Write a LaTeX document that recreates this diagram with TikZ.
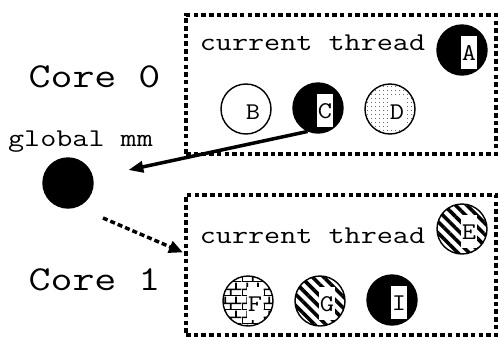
\documentclass[tikz,border=0pt]{standalone}
\usetikzlibrary{arrows.meta,patterns,patterns.meta}
\tikzdeclarepattern{
  name=BigBricks,
  type=uncolored,
  bounding box={(0pt,0pt) and (22pt,14pt)},
  tile size={(22pt,14pt)},
  code={
    \draw[line width=1.8pt] (0pt,0pt) -- (22pt,0pt) (0pt,7pt) -- (22pt,7pt)
      (0pt,0pt) -- (0pt,7pt) (11pt,0pt) -- (11pt,7pt)
      (5.5pt,7pt) -- (5.5pt,14pt) (16.5pt,7pt) -- (16.5pt,14pt);
  }
}
\tikzset{
  ball/.style={circle, draw, line width=1.4pt, minimum size=50pt, inner sep=0pt},
  lbl/.style={fill=white, inner sep=0pt, text width=16pt, align=center,
    text height=25pt, text depth=8pt, xshift=7pt, yshift=-2pt,
    font=\fontsize{24}{26}\selectfont\ttfamily},
  corebox/.style={draw, line width=3.4pt, dash pattern=on 4.5pt off 3.2pt, inner sep=0pt},
  bigtxt/.style={anchor=base, inner sep=0pt, font=\fontsize{35}{40}\selectfont\ttfamily},
  midtxt/.style={anchor=base, inner sep=0pt, font=\fontsize{25.6}{30}\selectfont\ttfamily},
  stripes/.style={pattern={Lines[angle=-45, distance=8pt, line width=3.6pt]}},
  dotty/.style={pattern={Dots[distance=4pt, radius=0.6pt]}},
}
\begin{document}
\begin{tikzpicture}[x=1pt, y=-1pt]
\useasboundingbox (0,0) rectangle (499,338);

% boxes
\node[corebox, minimum width=310pt, minimum height=139pt] (box0) at (341,84.5) {};
\node[corebox, minimum width=310pt, minimum height=140pt] (box1) at (341,265) {};

% texts
\node[bigtxt] (core0) at (94.5,87) {\scalebox{1.22}[1]{Core 0}};
\node[bigtxt] (core1) at (94.5,290) {\scalebox{1.22}[1]{Core 1}};
\node[midtxt] (gmm) at (80.5,146) {\scalebox{1.22}[1]{global mm}};
\node[midtxt] (ct0) at (312.5,50) {\scalebox{1.22}[1]{current thread}};
\node[midtxt] (ct1) at (312.5,243) {\scalebox{1.22}[1]{current thread}};

% global mm
\node[ball, fill=black] (global) at (68,183) {};

% core 0 threads
\node[ball, fill=black] (A) at (462,50) {};
\node[lbl] (Al) at (A) {\scalebox{1.15}[1]{A}};
\node[ball] (B) at (246,109) {};
\node[lbl] (Bl) at (B) {\scalebox{1.15}[1]{B}};
\node[ball, fill=black] (C) at (318,108) {};
\node[lbl] (Cl) at (C) {\scalebox{1.15}[1]{C}};
\node[ball, dotty] (D) at (390,109) {};
\node[lbl] (Dl) at (D) {\scalebox{1.15}[1]{D}};

% core 1 threads
\node[ball, stripes] (E) at (462,229) {};
\node[lbl] (El) at (E) {\scalebox{1.15}[1]{E}};
\node[ball, pattern=BigBricks] (F) at (248,301) {};
\node[lbl] (Fl) at (F) {\scalebox{1.15}[1]{F}};
\node[ball, stripes] (G) at (320,301) {};
\node[lbl] (Gl) at (G) {\scalebox{1.15}[1]{G}};
\node[ball, fill=black] (I) at (392,300) {};
\node[lbl] (Il) at (I) {\scalebox{1.15}[1]{I}};

% arrows
\draw[line width=3.5pt, shorten >=36pt, -{Triangle[length=15pt, width=11pt]}]
  (C.246) -- (global);
\coordinate (ds) at (103,218);
\draw[line width=3.5pt, dash pattern=on 5pt off 3pt, shorten >=1.5pt,
  -{Triangle[length=14pt, width=12pt]}]
  (ds) -- ([yshift=12pt]box1.west);
\end{tikzpicture}
\end{document}
